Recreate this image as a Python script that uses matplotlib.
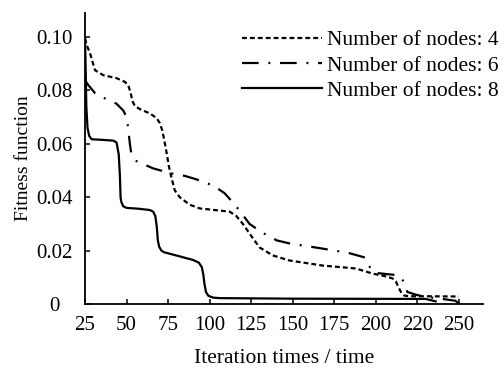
import numpy as np
import matplotlib
matplotlib.use("Agg")
import matplotlib.pyplot as plt

plt.rcParams['font.family'] = ['Liberation Serif', 'DejaVu Serif']
plt.rcParams['lines.scale_dashes'] = False

# values
x_n4 = [25, 26, 28, 31, 36, 44, 49, 51, 52.5, 53.5, 55, 58, 64, 68, 70, 71.5, 72.5, 74, 75.5, 77,
        79, 82, 88, 94, 106, 112, 116, 120, 124, 130, 138, 148, 168, 188, 198, 205, 210,
        212, 213.5, 215.5, 217, 220, 230, 250]
y_n4 = [0.0995, 0.097, 0.094, 0.0876, 0.0857, 0.0846, 0.0832, 0.082, 0.079, 0.076, 0.0742,
        0.073, 0.0714, 0.0697, 0.0678, 0.065, 0.062, 0.057, 0.0515, 0.0474,
        0.0426, 0.0400, 0.0372, 0.0358, 0.035, 0.0346, 0.033, 0.030, 0.0264, 0.0212,
        0.0182, 0.0163, 0.0144, 0.0133, 0.0114, 0.0105, 0.0096, 0.0085, 0.0065, 0.004,
        0.0032, 0.0029, 0.0029, 0.0028]

x_n6 = [25, 27, 31, 37, 44, 48, 50, 51, 52, 53, 56, 59, 66, 77, 85, 92, 102, 109, 114, 118,
        124, 131.5, 140.5, 148, 156, 167.5, 175, 182.6, 193.5, 196.5, 199.5, 205, 213,
        215.5, 217.5, 219, 224, 229.6, 240, 248, 250]
y_n6 = [0.0838, 0.082, 0.079, 0.077, 0.075, 0.0725, 0.070, 0.0658, 0.060, 0.0557, 0.0535,
        0.0527, 0.0508, 0.0489, 0.048, 0.0467, 0.0444, 0.0415, 0.038, 0.035,
        0.030, 0.0268, 0.0238, 0.0227, 0.0219, 0.0208, 0.020, 0.0193, 0.0174, 0.0137,
        0.0117, 0.0113, 0.0108, 0.0095, 0.0077, 0.0045, 0.0035, 0.0027, 0.0019, 0.0012,
        0.0002]

x_n8 = [25, 25.4, 25.8, 26.5, 27.5, 29, 35, 42, 44, 45.3, 46, 46.4, 46.8, 48, 50, 57, 64, 66,
        67.3, 68.2, 68.8, 69.6, 71, 72.5, 78, 90, 93.5, 95.3, 96.2, 96.9, 97.8, 99.2, 102,
        106, 150, 230, 236]
y_n8 = [0.100, 0.088, 0.074, 0.066, 0.063, 0.0617, 0.0615, 0.0612, 0.0605, 0.056, 0.048,
        0.040, 0.0383, 0.0366, 0.036, 0.0357, 0.0352, 0.0346, 0.033, 0.029, 0.024,
        0.0215, 0.0200, 0.0194, 0.0185, 0.0165, 0.0155, 0.0138, 0.011, 0.0075, 0.0045,
        0.0031, 0.0024, 0.0022, 0.002, 0.0019, 0.001]

x_ticks = [25, 50, 75, 100, 125, 150, 175, 200, 225, 250]
x_tick_labels = ["25", "50", "75", "100", "125", "150", "175", "200", "220", "250"]
y_ticks = [0, 0.02, 0.04, 0.06, 0.08, 0.10]
y_tick_labels = ["0", "0.02", "0.04", "0.06", "0.08", "0.10"]

fig = plt.figure(figsize=(5.04, 3.70), dpi=100)
ax = fig.add_axes([85/504, 1 - 304/370, 398/504, 291/370])

ax.plot(x_n4, y_n4, color="black", lw=1.6, dashes=(3.5, 2.2), label="Number of nodes: 4")
ax.plot(x_n6, y_n6, color="black", lw=1.6, dashes=(12, 7, 1.4, 7), label="Number of nodes: 6")
ax.plot(x_n8, y_n8, color="black", lw=1.6, label="Number of nodes: 8")

ax.set_xlim(25, 264.5)
ax.set_ylim(0, 0.109)
ax.set_xticks(x_ticks)
ax.set_xticklabels(x_tick_labels)
ax.set_yticks(y_ticks)
ax.set_yticklabels(y_tick_labels, ha="center")

ax.spines["top"].set_visible(False)
ax.spines["right"].set_visible(False)
for s in ["left", "bottom"]:
    ax.spines[s].set_linewidth(1.3)
ax.tick_params(axis="both", direction="in", length=3.5, width=1.1, labelsize=15)
ax.tick_params(axis="x", pad=9)
ax.tick_params(axis="y", pad=22)

ax.set_xlabel("Iteration times / time", fontsize=15.5, labelpad=10)
ax.set_ylabel("Fitness function", fontsize=14, labelpad=3)

ax.legend(loc="upper left", bbox_to_anchor=(242/504, 1 - 30/370), bbox_transform=fig.transFigure,
          frameon=False, fontsize=15.5, borderpad=0, borderaxespad=0,
          handlelength=3.7, handletextpad=0.25, labelspacing=0.25)

fig.savefig("out.png", dpi=100)
